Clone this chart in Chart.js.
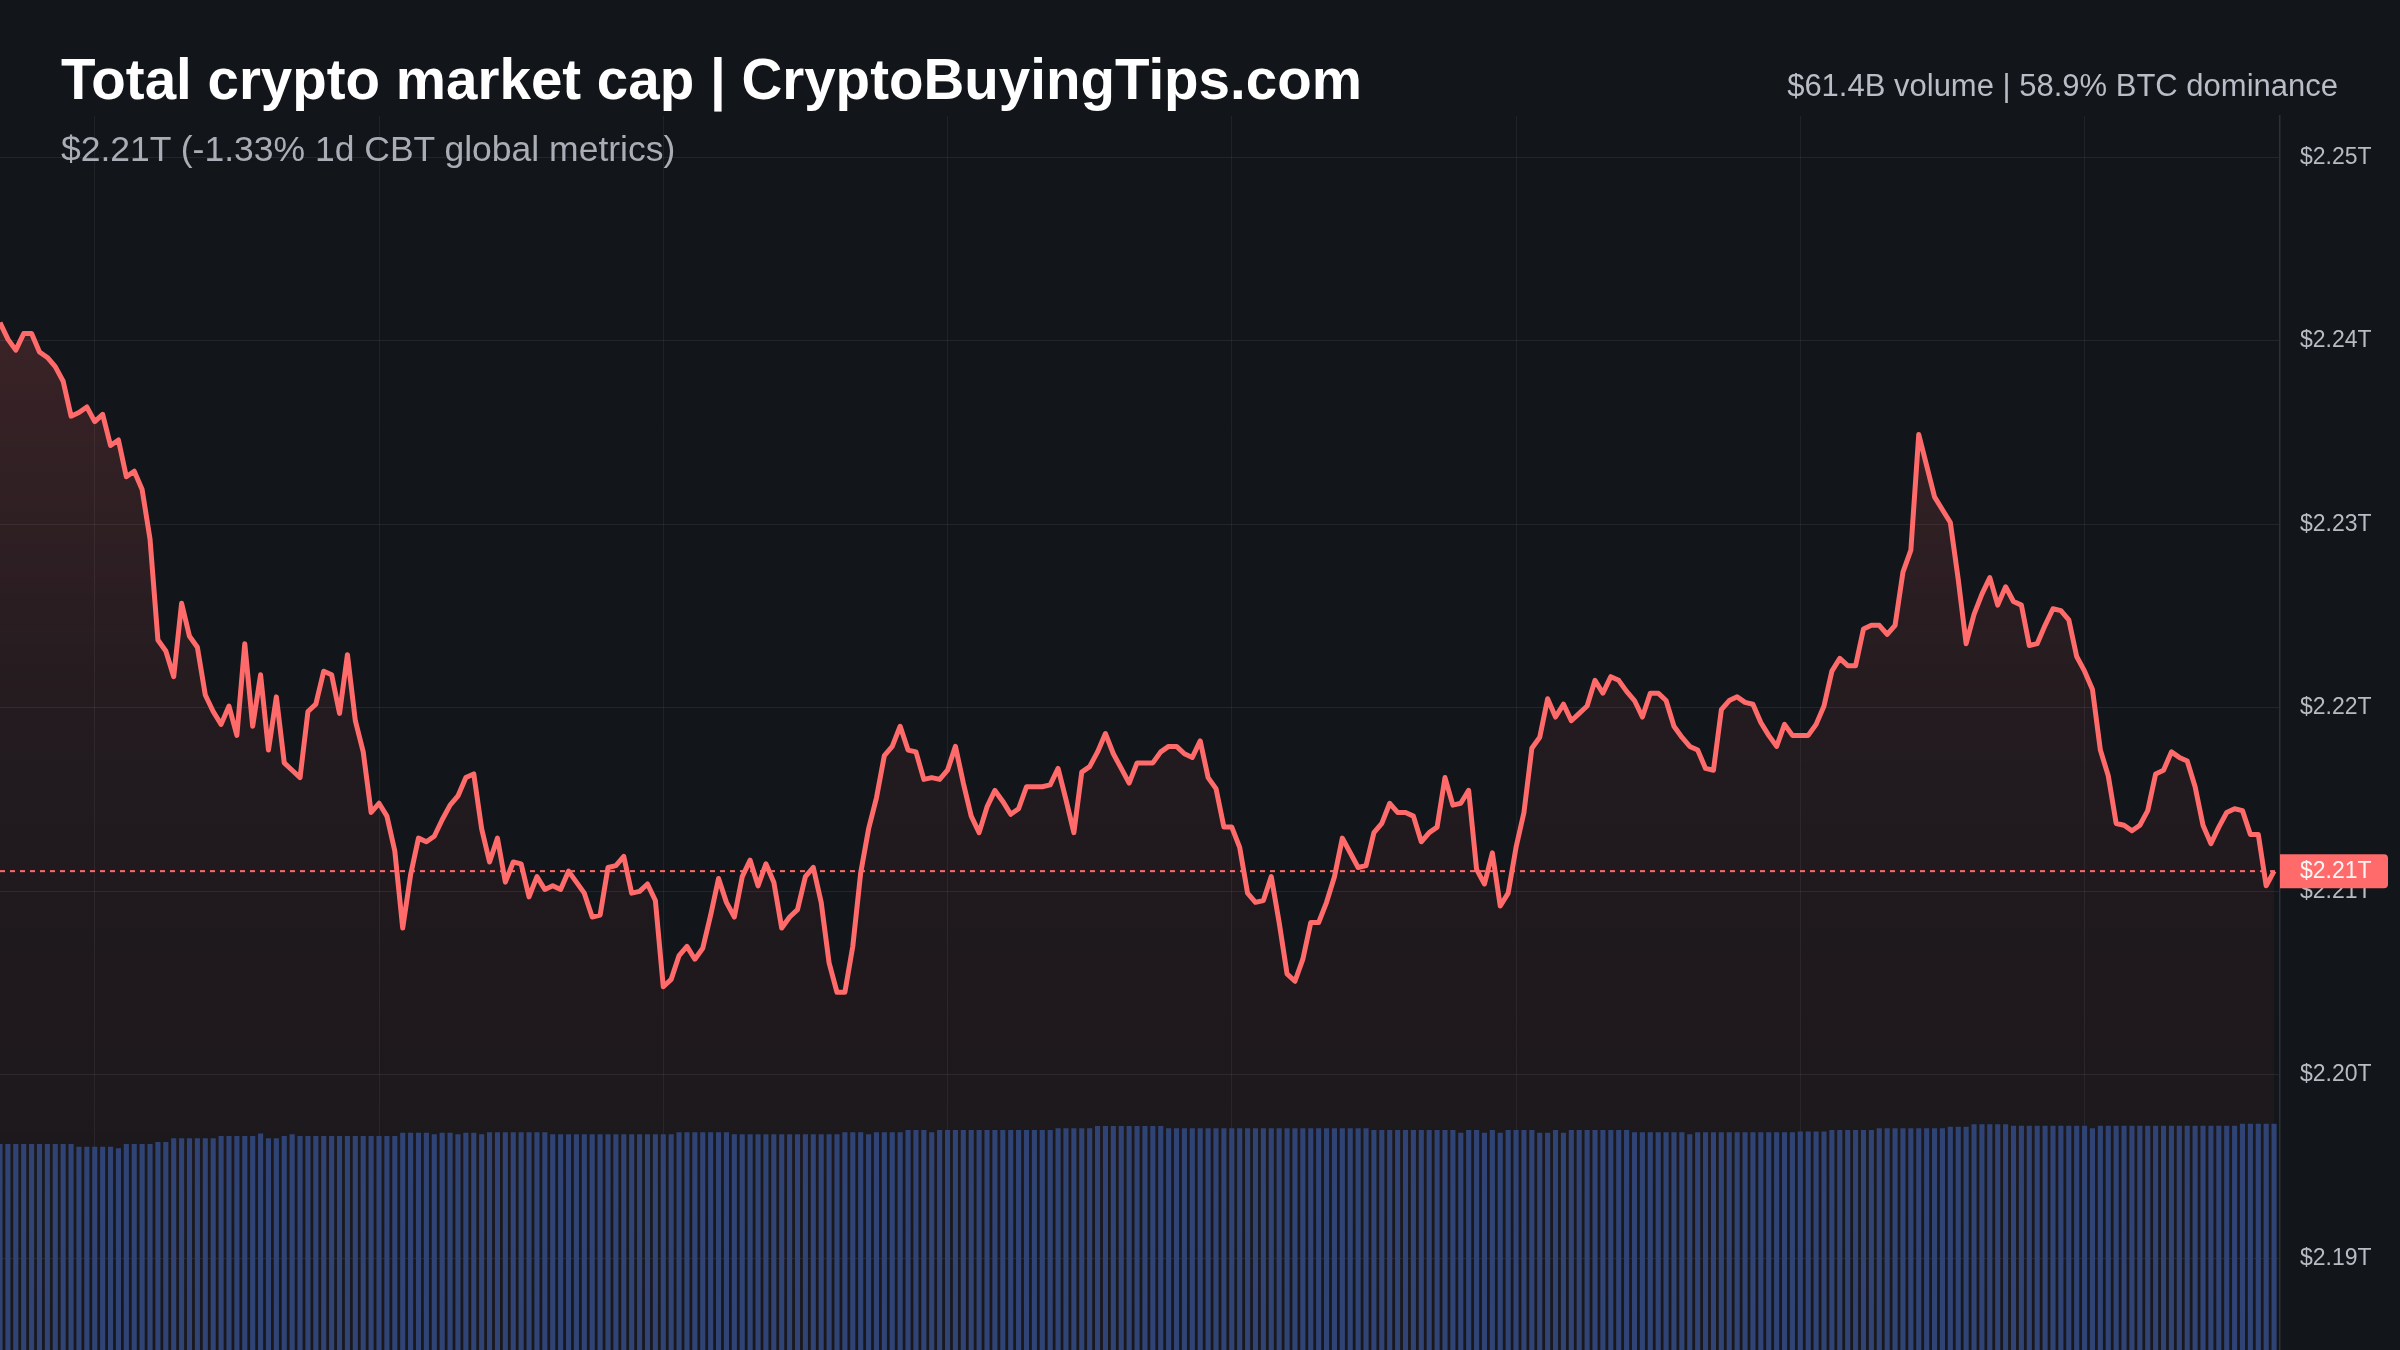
<!DOCTYPE html>
<html lang="en">
<head>
    <meta charset="UTF-8">
    <title>Total crypto market cap</title>
    <style>
        body {
            margin: 0;
            background-color: #121519;
            font-family: "Liberation Sans", Arial, sans-serif;
        }

        #wrap {
            position: relative;
            width: 2400px;
            height: 1350px;
            overflow: hidden;
        }

        #chart {
            display: block;
        }

        #title {
            position: absolute;
            left: 61px;
            top: 52px;
            font-size: 56.5px;
            font-weight: bold;
            line-height: 1;
            color: #ffffff;
            white-space: nowrap;
        }

        #subtitle {
            position: absolute;
            left: 61px;
            top: 132px;
            font-size: 35.5px;
            line-height: 1;
            color: #a9aeb6;
            white-space: nowrap;
        }

        #stats {
            position: absolute;
            right: 62px;
            top: 70px;
            font-size: 31px;
            line-height: 1;
            color: #b9bdc5;
            white-space: nowrap;
        }
    </style>
</head>
<body>
    <div id="wrap">
        <canvas id="chart" width="2400" height="1350"></canvas>
        <div id="title">Total crypto market cap | CryptoBuyingTips.com</div>
        <div id="subtitle">$2.21T (-1.33% 1d CBT global metrics)</div>
        <div id="stats">$61.4B volume | 58.9% BTC dominance</div>
    </div>

    <script src="https://cdn.jsdelivr.net/npm/chart.js"></script>
    <script>
        // total market cap, $B, one point every 5 minutes over 24h
        const priceValues = [
            2241.0, 2240.1, 2239.5, 2240.4, 2240.4, 2239.4, 2239.1, 2238.6, 2237.8, 2235.9,
            2236.1, 2236.4, 2235.6, 2236.0, 2234.3, 2234.6, 2232.6, 2232.9, 2231.9, 2229.2,
            2223.7, 2223.1, 2221.7, 2225.7, 2223.9, 2223.3, 2220.7, 2219.8, 2219.1, 2220.1,
            2218.5, 2223.5, 2219.0, 2221.8, 2217.7, 2220.6, 2217.0, 2216.6, 2216.2, 2219.8,
            2220.2, 2222.0, 2221.8, 2219.7, 2222.9, 2219.3, 2217.6, 2214.3, 2214.8, 2214.1,
            2212.2, 2208.0, 2210.9, 2212.9, 2212.7, 2213.0, 2213.9, 2214.7, 2215.2, 2216.2,
            2216.4, 2213.4, 2211.6, 2212.9, 2210.5, 2211.6, 2211.5, 2209.7, 2210.8, 2210.1,
            2210.3, 2210.1, 2211.1, 2210.5, 2209.9, 2208.6, 2208.7, 2211.3, 2211.4, 2211.9,
            2209.9, 2210.0, 2210.4, 2209.5, 2204.8, 2205.2, 2206.5, 2207.0, 2206.3, 2206.9,
            2208.7, 2210.7, 2209.4, 2208.6, 2210.8, 2211.7, 2210.3, 2211.5, 2210.5, 2208.0,
            2208.6, 2209.0, 2210.8, 2211.3, 2209.4, 2206.1, 2204.5, 2204.5, 2207.0, 2211.0,
            2213.4, 2215.1, 2217.4, 2217.9, 2219.0, 2217.7, 2217.6, 2216.1, 2216.2, 2216.1,
            2216.6, 2217.9, 2215.9, 2214.1, 2213.2, 2214.6, 2215.5, 2214.9, 2214.2, 2214.5,
            2215.7, 2215.7, 2215.7, 2215.8, 2216.7, 2215.0, 2213.2, 2216.5, 2216.8, 2217.6,
            2218.6, 2217.5, 2216.7, 2215.9, 2217.0, 2217.0, 2217.0, 2217.6, 2217.9, 2217.9,
            2217.5, 2217.3, 2218.2, 2216.2, 2215.6, 2213.5, 2213.5, 2212.4, 2209.9, 2209.4,
            2209.5, 2210.8, 2208.3, 2205.5, 2205.1, 2206.3, 2208.3, 2208.3, 2209.4, 2210.8,
            2212.9, 2212.1, 2211.3, 2211.4, 2213.2, 2213.7, 2214.8, 2214.3, 2214.3, 2214.1,
            2212.7, 2213.2, 2213.5, 2216.2, 2214.7, 2214.8, 2215.5, 2211.2, 2210.4, 2212.1,
            2209.2, 2209.9, 2212.4, 2214.3, 2217.8, 2218.4, 2220.5, 2219.5, 2220.2, 2219.3,
            2219.7, 2220.1, 2221.5, 2220.8, 2221.7, 2221.5, 2220.9, 2220.4, 2219.5, 2220.8,
            2220.8, 2220.4, 2219.0, 2218.4, 2217.9, 2217.7, 2216.7, 2216.6, 2219.9, 2220.4,
            2220.6, 2220.3, 2220.2, 2219.2, 2218.5, 2217.9, 2219.1, 2218.5, 2218.5, 2218.5,
            2219.1, 2220.1, 2222.0, 2222.7, 2222.3, 2222.3, 2224.3, 2224.5, 2224.5, 2224.0,
            2224.5, 2227.4, 2228.6, 2234.9, 2233.2, 2231.5, 2230.8, 2230.1, 2227.0, 2223.5,
            2225.1, 2226.2, 2227.1, 2225.6, 2226.6, 2225.8, 2225.6, 2223.4, 2223.5, 2224.5,
            2225.4, 2225.3, 2224.8, 2222.8, 2222.0, 2221.0, 2217.7, 2216.3, 2213.7, 2213.6,
            2213.3, 2213.6, 2214.4, 2216.4, 2216.6, 2217.6, 2217.3, 2217.1, 2215.7, 2213.6,
            2212.6, 2213.5, 2214.3, 2214.5, 2214.4, 2213.1, 2213.1, 2210.3, 2211.1
        ];

        // volume per point, $B
        const volumeValues = [
            55.9, 55.9, 55.9, 55.9, 55.9, 55.9, 55.9, 55.9, 55.9, 55.9,
            55.2, 55.2, 55.2, 55.2, 55.2, 54.8, 55.9, 55.9, 55.9, 55.9,
            56.5, 56.5, 57.5, 57.5, 57.5, 57.5, 57.5, 57.5, 58.1, 58.1,
            58.1, 58.1, 58.1, 58.8, 57.5, 57.5, 58.1, 58.6, 58.1, 58.1,
            58.1, 58.1, 58.1, 58.1, 58.1, 58.1, 58.1, 58.1, 58.1, 58.1,
            58.1, 59.0, 59.0, 59.0, 59.0, 58.6, 59.0, 59.0, 58.6, 59.0,
            59.0, 58.6, 59.1, 59.1, 59.1, 59.1, 59.1, 59.1, 59.1, 59.1,
            58.6, 58.6, 58.6, 58.6, 58.6, 58.6, 58.6, 58.6, 58.6, 58.6,
            58.6, 58.6, 58.6, 58.6, 58.6, 58.6, 59.1, 59.1, 59.1, 59.1,
            59.1, 59.1, 59.1, 58.6, 58.6, 58.6, 58.6, 58.6, 58.6, 58.6,
            58.6, 58.6, 58.6, 58.6, 58.6, 58.6, 58.6, 59.1, 59.1, 59.1,
            58.6, 59.1, 59.1, 59.1, 59.1, 59.7, 59.7, 59.7, 59.1, 59.7,
            59.7, 59.7, 59.7, 59.7, 59.7, 59.7, 59.7, 59.7, 59.7, 59.7,
            59.7, 59.7, 59.7, 59.7, 60.2, 60.2, 60.2, 60.2, 60.2, 60.8,
            60.8, 60.8, 60.8, 60.8, 60.8, 60.8, 60.8, 60.8, 60.2, 60.2,
            60.2, 60.2, 60.2, 60.2, 60.2, 60.2, 60.2, 60.2, 60.2, 60.2,
            60.2, 60.2, 60.2, 60.2, 60.2, 60.2, 60.2, 60.2, 60.2, 60.2,
            60.2, 60.2, 60.2, 60.2, 59.7, 59.7, 59.7, 59.7, 59.7, 59.7,
            59.7, 59.7, 59.7, 59.7, 59.7, 59.0, 59.7, 59.7, 59.0, 59.7,
            59.0, 59.7, 59.7, 59.7, 59.7, 59.0, 59.0, 59.7, 59.0, 59.7,
            59.7, 59.7, 59.7, 59.7, 59.7, 59.7, 59.7, 59.1, 59.1, 59.1,
            59.1, 59.1, 59.1, 59.1, 58.6, 59.1, 59.1, 59.1, 59.1, 59.1,
            59.1, 59.1, 59.1, 59.1, 59.1, 59.1, 59.1, 59.1, 59.3, 59.3,
            59.3, 59.3, 59.7, 59.7, 59.7, 59.7, 59.7, 59.7, 60.2, 60.2,
            60.2, 60.2, 60.2, 60.2, 60.2, 60.2, 60.2, 60.6, 60.6, 60.6,
            61.3, 61.3, 61.3, 61.3, 61.3, 60.9, 60.9, 60.9, 60.9, 60.9,
            60.9, 60.9, 60.9, 60.9, 60.9, 60.2, 60.9, 60.9, 60.9, 60.9,
            60.9, 60.9, 60.9, 60.9, 60.9, 60.9, 60.9, 60.9, 60.9, 60.9,
            60.9, 60.9, 60.9, 60.9, 61.4, 61.4, 61.4, 61.4, 61.4
        ];

        const priceTicks = [2190, 2200, 2210, 2220, 2230, 2240, 2250];
        // vertical grid every 3 hours (point index)
        const timeGrid = [12, 48, 84, 120, 156, 192, 228, 264];

        const lineColor = '#ff6b6b';
        const labelFont = '"Liberation Sans", Arial, sans-serif';
        const fmtT = v => '$' + (v / 1000).toFixed(2) + 'T';

        const priceTag = {
            id: 'priceTag',
            beforeDatasetsDraw(chart) {
                const { ctx, chartArea, scales } = chart;
                const y = scales.y.getPixelForValue(priceValues[priceValues.length - 1]);
                ctx.save();
                ctx.strokeStyle = lineColor;
                ctx.lineWidth = 2;
                ctx.setLineDash([5, 5]);
                ctx.beginPath();
                ctx.moveTo(chartArea.left, y);
                ctx.lineTo(chartArea.right, y);
                ctx.stroke();
                ctx.restore();
            },
            afterDraw(chart) {
                const { ctx, chartArea, scales } = chart;
                const last = priceValues[priceValues.length - 1];
                const y = scales.y.getPixelForValue(last);
                ctx.save();
                ctx.fillStyle = lineColor;
                ctx.beginPath();
                ctx.roundRect(chartArea.right, y - 17, 108, 34, [0, 4, 4, 0]);
                ctx.fill();
                ctx.fillStyle = '#fff4f4';
                ctx.font = '23px ' + labelFont;
                ctx.textBaseline = 'middle';
                ctx.fillText(fmtT(last), chartArea.right + 20, y + 1);
                ctx.restore();
            }
        };

        const ctx = document.getElementById('chart').getContext('2d');
        new Chart(ctx, {
            type: 'line',
            data: {
                datasets: [
                    {
                        type: 'bar',
                        data: volumeValues.map((v, i) => ({ x: i, y: v })),
                        yAxisID: 'y2',
                        backgroundColor: '#2f4474',
                        barPercentage: 0.65,
                        categoryPercentage: 1,
                        order: 0
                    },
                    {
                        type: 'line',
                        data: priceValues.map((v, i) => ({ x: i, y: v })),
                        yAxisID: 'y',
                        borderColor: lineColor,
                        borderWidth: 5,
                        borderJoinStyle: 'round',
                        pointRadius: 0,
                        tension: 0,
                        fill: 'start',
                        backgroundColor: function(context) {
                            const area = context.chart.chartArea;
                            if (!area) return 'transparent';
                            const g = context.chart.ctx.createLinearGradient(0, area.top, 0, area.bottom);
                            g.addColorStop(0, 'rgba(255,107,107,0.22)');
                            g.addColorStop(0.5, 'rgba(255,107,107,0.07)');
                            g.addColorStop(1, 'rgba(255,107,107,0.03)');
                            return g;
                        },
                        order: 1
                    }
                ]
            },
            options: {
                responsive: false,
                animation: false,
                devicePixelRatio: 1,
                layout: { padding: { top: 116, left: 0, right: 0, bottom: 0 } },
                plugins: {
                    legend: { display: false },
                    tooltip: { enabled: false }
                },
                scales: {
                    x: {
                        type: 'linear',
                        min: 0,
                        max: 288.75,
                        offset: false,
                        afterBuildTicks: scale => { scale.ticks = timeGrid.map(v => ({ value: v })); },
                        ticks: { display: false },
                        grid: { color: 'rgba(255,255,255,0.06)', drawTicks: false, offset: false },
                        border: { display: false }
                    },
                    y: {
                        position: 'right',
                        min: 2185,
                        max: 2252.26,
                        afterBuildTicks: scale => { scale.ticks = priceTicks.map(v => ({ value: v })); },
                        afterFit: scale => {
                            scale.width = 120;
                            scale.paddingTop = 0;
                            scale.paddingBottom = 0;
                        },
                        ticks: {
                            color: '#b8bcc2',
                            padding: 20,
                            font: { family: labelFont, size: 23 },
                            callback: v => fmtT(v)
                        },
                        grid: { color: 'rgba(255,255,255,0.07)', drawTicks: false },
                        border: { display: true, color: '#2c3037', width: 1.5 }
                    },
                    y2: {
                        display: false,
                        min: 0,
                        max: 335
                    }
                }
            },
            plugins: [priceTag]
        });
    </script>
</body>
</html>
